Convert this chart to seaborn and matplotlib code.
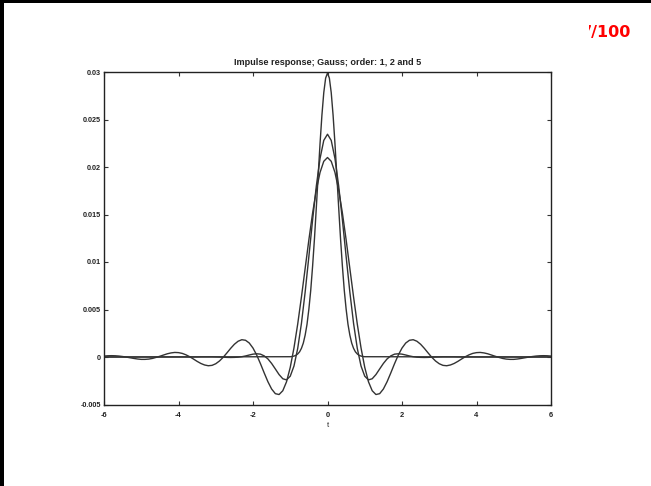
import numpy as np
import pandas as pd
import matplotlib
matplotlib.use("Agg")
import matplotlib.pyplot as plt
import seaborn as sns
from matplotlib.transforms import Bbox
from matplotlib.patches import Rectangle

# ---------------- data ----------------
title = "Impulse response; Gauss; order: 1, 2 and 5"
x_label = "t"
corner_note = "7/100"
x_ticks = [-6, -4, -2, 0, 2, 4, 6]
x_tick_labels = ["-6", "-4", "-2", "0", "2", "4", "6"]
y_ticks = [-0.005, 0.0, 0.005, 0.01, 0.015, 0.02, 0.025, 0.03]
y_tick_labels = ["-0.005", "0", "0.005", "0.01", "0.015", "0.02", "0.025", "0.03"]

# order 1 (Gaussian, tallest, no ringing)
t_order1 = [-6.0, -1.0, -0.95, -0.9, -0.85, -0.8, -0.75, -0.7, -0.65, -0.6, -0.55,
            -0.5, -0.45, -0.4, -0.35, -0.3, -0.25, -0.2, -0.15, -0.1, -0.05, 0.0,
            0.05, 0.1, 0.15, 0.2, 0.25, 0.3, 0.35, 0.4, 0.45, 0.5, 0.55, 0.6, 0.65,
            0.7, 0.75, 0.8, 0.85, 0.9, 0.95, 1.0, 6.0]
h_order1 = [0.0, 0.00003, 0.00005, 0.00010, 0.00017, 0.00032, 0.00054, 0.00091, 0.00146,
            0.00230, 0.00344, 0.00504, 0.00703, 0.00956, 0.01245, 0.01574, 0.01912,
            0.02248, 0.02545, 0.02783, 0.02936, 0.02989, 0.02936, 0.02783, 0.02545,
            0.02248, 0.01912, 0.01574, 0.01245, 0.00956, 0.00703, 0.00504, 0.00344,
            0.00230, 0.00146, 0.00091, 0.00054, 0.00032, 0.00017, 0.00010, 0.00005,
            0.00003, 0.0]

# orders 2 and 5 sampled every 0.1 from -6 to 6
t_grid = np.linspace(-6.0, 6.0, 121)
h_order2 = [0.0, 0.0, 0.0, 0.0, 0.0, 0.0, 0.0, 0.0, 0.0, 0.0,
            0.0, 0.0, 0.0, 0.0, 0.0, 0.0, 0.0, 0.0, 0.0, 0.0,
            0.0, 0.0, 0.0, 0.0, 0.0, 0.0, 0.00001, 0.00001, 0.00001, 0.00001,
            0.0, -0.00001, -0.00002, -0.00004, -0.00005, -0.00004, -0.00002, 0.00003, 0.00011, 0.00021,
            0.00030, 0.00034, 0.00030, 0.00012, -0.00020, -0.00068, -0.00126, -0.00185, -0.00229, -0.00241,
            -0.00202, -0.00095, 0.00090, 0.00353, 0.00683, 0.01058, 0.01443, 0.01800, 0.02090, 0.02280,
            0.02345,
            0.02280, 0.02090, 0.01800, 0.01443, 0.01058, 0.00683, 0.00353, 0.00090, -0.00095, -0.00202,
            -0.00241, -0.00229, -0.00185, -0.00126, -0.00068, -0.00020, 0.00012, 0.00030, 0.00034, 0.00030,
            0.00021, 0.00011, 0.00003, -0.00002, -0.00004, -0.00005, -0.00004, -0.00002, -0.00001, 0.0,
            0.00001, 0.00001, 0.00001, 0.00001, 0.0, 0.0, 0.0, 0.0, 0.0, 0.0,
            0.0, 0.0, 0.0, 0.0, 0.0, 0.0, 0.0, 0.0, 0.0, 0.0,
            0.0, 0.0, 0.0, 0.0, 0.0, 0.0, 0.0, 0.0, 0.0, 0.0]
h_order5 = [0.00010, 0.00013, 0.00014, 0.00013, 0.00010, 0.00005, -0.00001, -0.00008, -0.00015, -0.00021,
            -0.00025, -0.00025, -0.00022, -0.00015, -0.00004, 0.00008, 0.00021, 0.00034, 0.00043, 0.00048,
            0.00046, 0.00038, 0.00023, 0.00003, -0.00021, -0.00046, -0.00068, -0.00084, -0.00092, -0.00088,
            -0.00071, -0.00042, -0.00003, 0.00043, 0.00091, 0.00134, 0.00166, 0.00182, 0.00176, 0.00147,
            0.00094, 0.00020, -0.00070, -0.00167, -0.00260, -0.00337, -0.00386, -0.00395, -0.00355, -0.00261,
            -0.00109, 0.00096, 0.00346, 0.00631, 0.00932, 0.01234, 0.01515, 0.01757, 0.01943, 0.02060,
            0.02100,
            0.02060, 0.01943, 0.01757, 0.01515, 0.01234, 0.00932, 0.00631, 0.00346, 0.00096, -0.00109,
            -0.00261, -0.00355, -0.00395, -0.00386, -0.00337, -0.00260, -0.00167, -0.00070, 0.00020, 0.00094,
            0.00147, 0.00176, 0.00182, 0.00166, 0.00134, 0.00091, 0.00043, -0.00003, -0.00042, -0.00071,
            -0.00088, -0.00092, -0.00084, -0.00068, -0.00046, -0.00021, 0.00003, 0.00023, 0.00038, 0.00046,
            0.00048, 0.00043, 0.00034, 0.00021, 0.00008, -0.00004, -0.00015, -0.00022, -0.00025, -0.00025,
            -0.00021, -0.00015, -0.00008, -0.00001, 0.00005, 0.00010, 0.00013, 0.00014, 0.00013, 0.00010]

# ---------------- figure ----------------
sns.set_theme(style="white")
plt.rcParams['font.family'] = ['Liberation Sans', 'DejaVu Sans']

data = pd.concat([
    pd.DataFrame({"t": t_order1, "h": h_order1, "order": "1"}),
    pd.DataFrame({"t": t_grid, "h": h_order2, "order": "2"}),
    pd.DataFrame({"t": t_grid, "h": h_order5, "order": "5"}),
], ignore_index=True)

W, H = 651, 486
fig = plt.figure(figsize=(W / 100, H / 100), dpi=100)
fig.patch.set_facecolor("white")
ax = fig.add_axes([104 / W, 1 - 404.5 / H, 447 / W, 332.5 / H])

sns.lineplot(data=data, x="t", y="h", hue="order", palette=["#333333"] * 3,
             legend=False, ax=ax, linewidth=1.0, errorbar=None)

ax.set_xlim(-6, 6)
ax.set_ylim(-0.005, 0.03)
ax.set_xticks(x_ticks)
ax.set_xticklabels(x_tick_labels, fontsize=5.4, fontweight="bold", color="#222222")
ax.set_yticks(y_ticks)
ax.set_yticklabels(y_tick_labels, fontsize=5.2, fontweight="bold", color="#222222")
ax.tick_params(axis="both", direction="in", length=3, width=0.8, color="#333333",
               top=True, right=True, bottom=True, left=True)
ax.tick_params(axis="x", pad=5.5)
ax.tick_params(axis="y", pad=2.0)
for sp in ax.spines.values():
    sp.set_color("#222222")
    sp.set_linewidth(1.0)

ax.set_title(title, fontsize=6.6, fontweight="bold", pad=5, color="#222222")
ax.set_xlabel(x_label, fontsize=5.5, labelpad=2, color="#222222")
ax.set_ylabel("")

# page frame (black edges on the left and top)
fig.add_artist(Rectangle((0, 0), 4 / W, 1, transform=fig.transFigure, color="black", lw=0))
fig.add_artist(Rectangle((0, 1 - 3 / H), 1, 3 / H, transform=fig.transFigure, color="black", lw=0))

# red note in the top-right corner, its first glyph partly cut off
note = fig.text(581 / W, 1 - 32 / H, corner_note, color="#ff0000", fontsize=11.5,
                fontweight="bold", family="DejaVu Sans", ha="left", va="center")
note.set_clip_box(Bbox([[589, 0], [W, H]]))
note.set_clip_on(True)

fig.savefig("out.png", dpi=100)
